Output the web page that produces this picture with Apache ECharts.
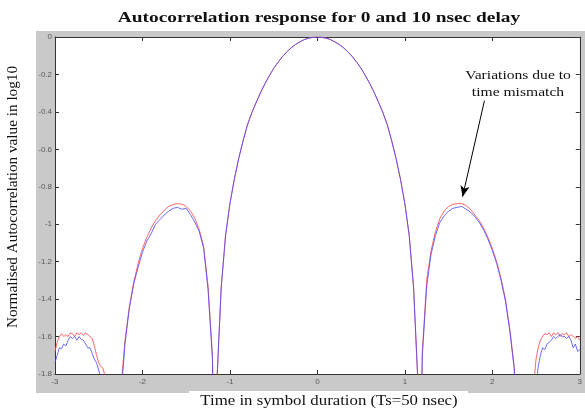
<!DOCTYPE html>
<html><head><meta charset="utf-8">
<script src="https://cdn.jsdelivr.net/npm/echarts@6/dist/echarts.min.js"></script>
<style>html,body{margin:0;padding:0;background:#fff}#c{width:585px;height:410px}</style>
</head><body><div id="c"></div>
<script>
var xs = [
-3,-2.975,-2.95,-2.925,-2.9,-2.875,-2.85,-2.825,-2.8,-2.775,-2.75,-2.725,-2.7,-2.675,-2.65,-2.625,-2.6,-2.575,-2.55,-2.525,-2.5,-2.475,-2.45,-2.425,-2.4,
-2.3,-2.25,-2.2,-2.15,-2.1,-2.05,-2,-1.95,-1.9,-1.85,-1.8,-1.75,-1.7,-1.65,-1.6,-1.55,-1.5,-1.45,-1.4,-1.35,-1.3,-1.25,-1.2,
-1.17,
-1.15,-1.1,-1.05,-1,-0.95,-0.9,-0.85,-0.8,-0.75,-0.7,-0.65,-0.6,-0.55,-0.5,-0.45,-0.4,-0.35,-0.3,-0.25,-0.2,-0.15,-0.1,-0.05,0,
0.05,0.1,0.15,0.2,0.25,0.3,0.35,0.4,0.45,0.5,0.55,0.6,0.65,0.7,0.75,0.8,0.85,0.9,0.95,1,1.05,1.1,1.15,
1.17,
1.2,1.25,1.3,1.35,1.4,1.45,1.5,1.55,1.6,1.65,1.7,1.75,1.8,1.85,1.9,1.95,2,2.05,2.1,2.15,2.2,2.25,2.3,
2.45,2.475,2.5,2.525,2.55,2.575,2.6,2.625,2.65,2.675,2.7,2.725,2.75,2.775,2.8,2.825,2.85,2.875,2.9,2.925,2.95,2.975,3
];
var delay0 = [
-1.68,-1.63,-1.6,-1.585,-1.6,-1.59,-1.6,-1.58,-1.585,-1.6,-1.58,-1.59,-1.58,-1.595,-1.58,-1.59,-1.6,-1.61,-1.65,-1.7,-1.74,-1.76,-1.77,-1.82,-2.2,
-2.3,-1.9,-1.62,-1.44,-1.31,-1.21,-1.13,-1.07,-1.02,-0.98,-0.95,-0.925,-0.905,-0.895,-0.89,-0.893,-0.905,-0.93,-0.97,-1.03,-1.12,-1.33,-1.7,
-2.5,
-1.85,-1.34,-1.06,-0.89,-0.76,-0.65,-0.555,-0.47,-0.405,-0.35,-0.297,-0.25,-0.207,-0.168,-0.135,-0.105,-0.08,-0.058,-0.04,-0.026,-0.014,-0.006,-0.002,0,
-0.002,-0.006,-0.014,-0.026,-0.04,-0.058,-0.08,-0.105,-0.135,-0.168,-0.207,-0.25,-0.297,-0.35,-0.405,-0.47,-0.555,-0.65,-0.76,-0.89,-1.06,-1.34,-1.85,
-2.5,
-1.68,-1.3,-1.14,-1.04,-0.97,-0.93,-0.905,-0.893,-0.89,-0.89,-0.9,-0.92,-0.95,-0.98,-1.02,-1.07,-1.13,-1.2,-1.29,-1.4,-1.56,-1.76,-2.3,
-2.4,-1.85,-1.72,-1.66,-1.62,-1.6,-1.585,-1.59,-1.58,-1.6,-1.58,-1.59,-1.58,-1.6,-1.585,-1.59,-1.58,-1.6,-1.59,-1.6,-1.61,-1.6,-1.62
];
var delay10 = [
-1.74,-1.7,-1.66,-1.665,-1.64,-1.65,-1.62,-1.6,-1.61,-1.6,-1.62,-1.6,-1.615,-1.62,-1.64,-1.66,-1.66,-1.69,-1.72,-1.74,-1.78,-1.82,-2.0,-2.3,-2.5,
-2.3,-1.95,-1.64,-1.45,-1.32,-1.23,-1.15,-1.09,-1.05,-1.0,-0.975,-0.95,-0.93,-0.915,-0.91,-0.92,-0.915,-0.95,-0.99,-1.04,-1.13,-1.35,-1.72,
-2.5,
-1.85,-1.34,-1.06,-0.89,-0.76,-0.65,-0.555,-0.47,-0.405,-0.35,-0.297,-0.25,-0.207,-0.168,-0.135,-0.105,-0.08,-0.058,-0.04,-0.026,-0.014,-0.006,-0.002,0,
-0.002,-0.006,-0.014,-0.026,-0.04,-0.058,-0.08,-0.105,-0.135,-0.168,-0.207,-0.25,-0.297,-0.35,-0.405,-0.47,-0.555,-0.65,-0.76,-0.89,-1.06,-1.34,-1.85,
-2.5,
-1.7,-1.33,-1.16,-1.06,-0.99,-0.955,-0.93,-0.915,-0.91,-0.905,-0.92,-0.935,-0.96,-0.99,-1.03,-1.08,-1.14,-1.21,-1.3,-1.41,-1.57,-1.77,-2.3,
-2.5,-2.2,-1.88,-1.76,-1.7,-1.66,-1.67,-1.64,-1.63,-1.62,-1.6,-1.61,-1.6,-1.59,-1.6,-1.6,-1.61,-1.6,-1.62,-1.66,-1.64,-1.68,-1.67
];
var titleText = 'Autocorrelation response for 0 and 10 nsec delay';
var xTitle = 'Time in symbol duration (Ts=50 nsec)';
var yTitle = 'Normalised Autocorrelation value in log10';
var noteLines = ['Variations due to', 'time mismatch'];
var arrowFrom = [1.91, -0.34];
var arrowTo = [1.66, -0.853];

function pairs(ys){ return xs.map(function(x,i){ return [x, ys[i]]; }); }

var serif = '"Liberation Serif","Times New Roman",serif';
var lab = {color:'#5a5a5a', fontSize:8, fontFamily:'"Liberation Sans",Arial,sans-serif'};
function axisCommon(extra){
  return Object.assign({
    axisLine:{show:true, onZero:false, lineStyle:{color:'#333', width:1}},
    axisTick:{show:true, inside:true, length:4, lineStyle:{color:'#333'}},
    splitLine:{show:false}
  }, extra);
}
var chart = echarts.init(document.getElementById('c'), null, {renderer:'canvas'});
chart.setOption({
  animation:false,
  backgroundColor:'#fff',
  grid:{left:55, top:37, width:528, height:337, show:true, backgroundColor:'#fff', borderWidth:0},
  graphic:[
    {type:'rect', z:-10, shape:{x:36, y:31, width:549, height:362}, style:{fill:'#c9c9c9'}},
    {type:'rect', z:-9, shape:{x:189, y:391, width:279, height:19}, style:{fill:'#fff'}},
    {type:'text', x:319, y:18, scaleX:1.25, style:{text:titleText, font:'bold 15.5px '+serif, fill:'#111', textAlign:'center', textVerticalAlign:'middle'}},
    {type:'text', x:329, y:401, scaleX:1.12, style:{text:xTitle, font:'15px '+serif, fill:'#111', textAlign:'center', textVerticalAlign:'middle'}},
    {type:'text', x:13, y:197, rotation:Math.PI/2, scaleX:1.05, style:{text:yTitle, font:'14.5px '+serif, fill:'#111', textAlign:'center', textVerticalAlign:'middle'}},
    {type:'text', x:518, y:76, scaleX:1.2, style:{text:noteLines[0], font:'13px '+serif, fill:'#111', textAlign:'center', textVerticalAlign:'middle'}},
    {type:'text', x:518, y:93, scaleX:1.2, style:{text:noteLines[1], font:'13px '+serif, fill:'#111', textAlign:'center', textVerticalAlign:'middle'}}
  ],
  xAxis:[
    axisCommon({type:'value', min:-3, max:3, interval:1, position:'bottom', axisLabel:Object.assign({margin:4}, lab)}),
    axisCommon({type:'value', min:-3, max:3, interval:1, position:'top', axisLabel:{show:false}})
  ],
  yAxis:[
    axisCommon({type:'value', min:-1.8, max:0, interval:0.2, position:'left', axisLabel:Object.assign({margin:3}, lab)}),
    axisCommon({type:'value', min:-1.8, max:0, interval:0.2, position:'right', axisLabel:{show:false}})
  ],
  series:[
    {type:'line', name:'0 nsec', data:pairs(delay0), showSymbol:false, clip:true,
     lineStyle:{color:'#ff4c4c', width:1, opacity:0.85}},
    {type:'line', name:'10 nsec', data:pairs(delay10), showSymbol:false, clip:true,
     lineStyle:{color:'#4848ff', width:1, opacity:0.8},
     markLine:{silent:true, symbol:['none','arrow'], symbolSize:[7,11],
       lineStyle:{color:'#000', width:1, type:'solid'}, label:{show:false},
       data:[[{coord:arrowFrom},{coord:arrowTo}]]}}
  ]
});
</script></body></html>
